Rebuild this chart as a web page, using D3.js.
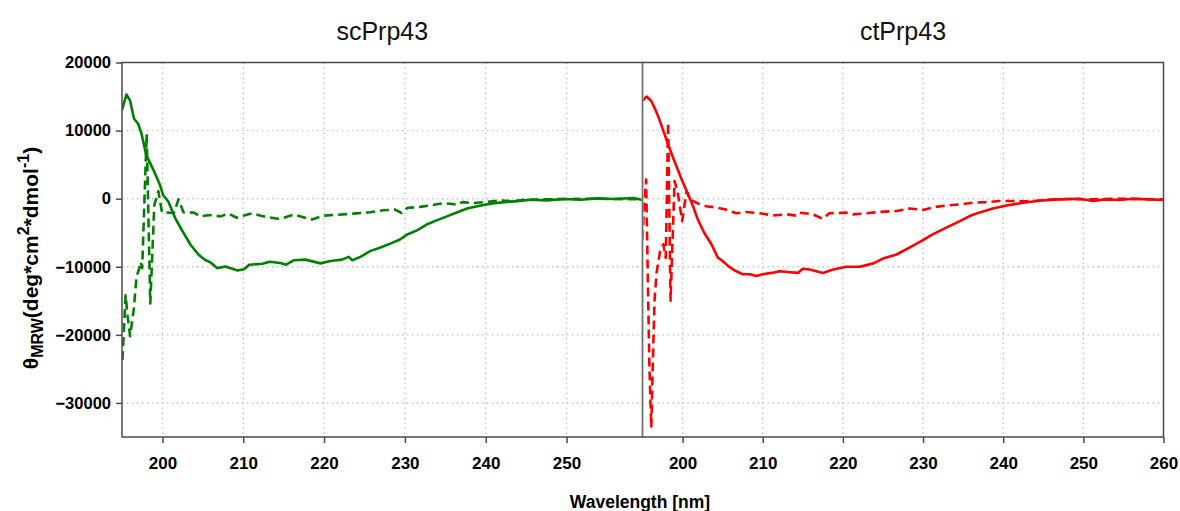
<!DOCTYPE html>
<html>
<head>
<meta charset="utf-8">
<script src="https://cdn.jsdelivr.net/npm/d3@7"></script>
<style>
  body { margin: 0; background: #fff; }
  svg { display: block; font-family: "Liberation Sans", Arial, sans-serif; }
</style>
</head>
<body>
<svg id="chart" width="1180" height="511"></svg>
<script>
'use strict';

// values: [wavelength nm, theta MRW]
const panelTitles = ['scPrp43', 'ctPrp43'];
const yTicks = [20000, 10000, 0, -10000, -20000, -30000];
const xTicksLeft = [200, 210, 220, 230, 240, 250];
const xTicksRight = [200, 210, 220, 230, 240, 250, 260];

const scSolid = [
  [195.0, 13000], [195.55, 15300], [196.0, 14400], [196.5, 11700], [197.0, 11000],
  [197.4, 9600], [198.0, 6400], [198.9, 4200], [199.7, 2000], [200.1, 500],
  [200.75, -450], [201.6, -2900], [202.4, -4600], [203.5, -6800], [204.5, -8250],
  [205.3, -9000], [206.0, -9400], [206.8, -10200], [207.8, -9950], [209.3, -10550],
  [210.1, -10350], [210.75, -9700], [212.4, -9550], [213.25, -9250], [214.6, -9450],
  [215.3, -9700], [216.25, -9050], [217.7, -8950], [219.55, -9500], [220.8, -9150],
  [222.2, -8950], [223.05, -8550], [223.5, -9050], [224.5, -8550], [225.7, -7700],
  [226.9, -7200], [228.2, -6600], [229.4, -6000], [230.3, -5250], [231.5, -4650],
  [232.7, -3800], [234.0, -3150], [235.2, -2600], [236.5, -2000], [237.7, -1450],
  [239.4, -1000], [241.0, -650], [243.5, -400], [245.6, -150], [247.6, -250],
  [249.7, -50], [251.7, -150], [253.8, 50], [255.9, -50], [258.3, 100], [259.4, -200],
];

const scDashed = [
  [195.05, -23700], [195.45, -14200], [195.7, -17300], [196.0, -20200], [196.45, -16300],
  [196.8, -11400], [197.1, -10400], [197.3, -9300], [197.5, -10200], [198.05, 9500],
  [198.5, -15400], [199.0, -900], [199.5, 1100], [199.95, -2000], [201.4, -2100],
  [202.0, -100], [202.6, -2000], [203.9, -2050], [204.7, -2600], [205.9, -2400],
  [207.2, -2600], [208.2, -2200], [209.2, -2800], [210.2, -2450], [211.1, -2150],
  [212.3, -2550], [214.2, -2950], [215.0, -2800], [216.25, -2350], [218.5, -3050],
  [219.9, -2500], [221.8, -2350], [223.6, -2200], [225.7, -2000], [227.3, -1700],
  [228.8, -1600], [229.6, -2100], [230.3, -1350], [231.9, -1200], [233.6, -900],
  [234.8, -650], [235.6, -750], [236.5, -900], [237.1, -500], [238.5, -650],
  [240.2, -450], [241.8, -250], [243.5, -400], [244.7, -150], [247.0, -100],
  [250.0, -50], [253.0, 0], [256.0, -50], [259.4, -100],
];

const ctSolid = [
  [195.0, 14350], [195.5, 15000], [196.1, 14350], [196.6, 13100], [197.1, 11650],
  [197.6, 9950], [198.2, 8000], [198.8, 6050], [199.4, 4300], [200.05, 2350],
  [200.7, 650], [201.3, -1100], [201.9, -3050], [202.7, -5000], [203.6, -6700],
  [204.4, -8650], [205.0, -9150], [205.7, -9900], [206.5, -10550], [207.5, -11100],
  [208.4, -11100], [209.2, -11350], [210.0, -11100], [211.1, -10900], [212.1, -10650],
  [213.4, -10800], [214.4, -10900], [215.0, -10300], [215.85, -10400], [217.5, -10900],
  [218.8, -10400], [220.4, -10000], [222.1, -10000], [223.8, -9500], [225.0, -8800],
  [226.7, -8200], [228.3, -7200], [230.0, -6100], [231.2, -5250], [232.9, -4250],
  [234.6, -3300], [235.8, -2550], [237.0, -2050], [238.7, -1450], [240.4, -1000],
  [242.5, -600], [244.5, -300], [247.0, -100], [249.5, 0], [251.2, -350],
  [252.8, -100], [254.5, -200], [256.1, 0], [258.2, -100], [260.0, -200],
];

const ctDashed = [
  [195.0, -6000], [195.2, -1000], [195.45, 2800], [195.7, -14000], [195.85, -24000],
  [196.0, -30000], [196.1, -33600], [196.25, -26000], [196.5, -15000], [196.75, -10900],
  [197.2, -7700], [197.6, -6700], [197.9, -8700], [198.2, 11200], [198.5, -15000],
  [199.0, 2600], [199.4, 900], [199.95, -3300], [200.5, 1100], [200.9, -100],
  [201.9, -700], [202.95, -1100], [204.2, -1300], [205.4, -1600], [206.7, -2150],
  [207.9, -1950], [209.6, -2150], [211.3, -2450], [213.0, -2300], [214.2, -2500],
  [214.6, -2050], [216.25, -2300], [217.5, -2950], [218.3, -2150], [220.4, -2050],
  [221.25, -2300], [222.9, -2150], [224.6, -1950], [226.7, -1800], [228.3, -1450],
  [230.0, -1650], [231.6, -1200], [232.9, -1000], [234.6, -850], [236.2, -600],
  [237.9, -500], [239.5, -350], [241.2, -350], [243.3, -400], [245.5, -150],
  [248.0, -50], [251.0, -100], [254.0, 0], [257.0, -50], [260.0, -100],
];

// layout
const plotTop = 62.5;
const plotBottom = 437;
const frameColor = '#4a4a4a';
const gridColor = '#c4c4c4';
const fontFamily = '"Liberation Sans", Arial, sans-serif';

const panels = [
  {
    title: panelTitles[0], solid: scSolid, dashed: scDashed, color: '#008000',
    x0: 122, x1: 642.5, domain: [195, 259.4], ticks: xTicksLeft, yAxis: true,
  },
  {
    title: panelTitles[1], solid: ctSolid, dashed: ctDashed, color: '#ff0000',
    x0: 642.5, x1: 1163.5, domain: [195, 260], ticks: xTicksRight, yAxis: false,
  },
];

const svg = d3.select('#chart');

const y = d3.scaleLinear()
  .domain([-35000, 20000])
  .range([plotBottom, plotTop]);

const styleTickText = (sel, size) => sel
  .attr('fill', '#000')
  .style('font-size', size)
  .style('font-weight', 'bold')
  .style('font-family', fontFamily);

const drawPanel = (panel, index) => {
  const x = d3.scaleLinear().domain(panel.domain).range([panel.x0, panel.x1]);
  const g = svg.append('g').attr('class', `panel-${index}`);
  const clipId = `clip-${index}`;

  svg.append('clipPath')
    .attr('id', clipId)
    .append('rect')
    .attr('x', panel.x0)
    .attr('y', plotTop)
    .attr('width', panel.x1 - panel.x0)
    .attr('height', plotBottom - plotTop);

  // dotted grid
  g.append('g')
    .selectAll('line.vgrid')
    .data(panel.ticks.filter((t) => t < panel.domain[1]))
    .join('line')
    .attr('class', 'vgrid')
    .attr('x1', (d) => x(d))
    .attr('x2', (d) => x(d))
    .attr('y1', plotTop)
    .attr('y2', plotBottom);
  g.append('g')
    .selectAll('line.hgrid')
    .data(yTicks.filter((t) => t < 20000))
    .join('line')
    .attr('class', 'hgrid')
    .attr('x1', panel.x0)
    .attr('x2', panel.x1)
    .attr('y1', (d) => y(d))
    .attr('y2', (d) => y(d));
  g.selectAll('line.vgrid, line.hgrid')
    .attr('stroke', gridColor)
    .attr('stroke-width', 1.4)
    .attr('stroke-dasharray', '1.5,3.5');

  // curves
  const line = d3.line().x((d) => x(d[0])).y((d) => y(d[1]));
  const curves = g.append('g').attr('clip-path', `url(#${clipId})`);
  curves.append('path')
    .datum(panel.dashed)
    .attr('d', line)
    .attr('fill', 'none')
    .attr('stroke', panel.color)
    .attr('stroke-width', 2.6)
    .attr('stroke-dasharray', '9,5')
    .attr('stroke-linejoin', 'round');
  curves.append('path')
    .datum(panel.solid)
    .attr('d', line)
    .attr('fill', 'none')
    .attr('stroke', panel.color)
    .attr('stroke-width', 2.6)
    .attr('stroke-linejoin', 'round');

  // bottom axis
  const xAxis = g.append('g')
    .attr('transform', `translate(0,${plotBottom})`)
    .call(d3.axisBottom(x).tickValues(panel.ticks).tickSize(6).tickPadding(14));
  xAxis.select('.domain').remove();
  xAxis.selectAll('line').attr('stroke', frameColor).attr('stroke-width', 1.5);
  styleTickText(xAxis.selectAll('text'), '17px');

  if (panel.yAxis) {
    const yAxis = g.append('g')
      .attr('transform', `translate(${panel.x0},0)`)
      .call(d3.axisLeft(y).tickValues(yTicks).tickFormat(d3.format('d'))
        .tickSize(6).tickPadding(5));
    yAxis.select('.domain').remove();
    yAxis.selectAll('line').attr('stroke', frameColor).attr('stroke-width', 1.5);
    styleTickText(yAxis.selectAll('text'), '16.5px');
  }

  // frame
  g.append('rect')
    .attr('x', panel.x0)
    .attr('y', plotTop)
    .attr('width', panel.x1 - panel.x0)
    .attr('height', plotBottom - plotTop)
    .attr('fill', 'none')
    .attr('stroke', frameColor)
    .attr('stroke-width', 1.5);

  // title
  svg.append('text')
    .attr('x', (panel.x0 + panel.x1) / 2)
    .attr('y', 40)
    .attr('text-anchor', 'middle')
    .style('font-size', '25px')
    .attr('fill', '#111')
    .text(panel.title);
};

panels.forEach(drawPanel);

// divider between the two panels is a lighter hairline
svg.append('line')
  .attr('x1', panels[1].x0)
  .attr('x2', panels[1].x0)
  .attr('y1', plotTop + 1)
  .attr('y2', plotBottom - 1)
  .attr('stroke', '#ffffff')
  .attr('stroke-width', 1.6);
svg.append('line')
  .attr('x1', panels[1].x0)
  .attr('x2', panels[1].x0)
  .attr('y1', plotTop)
  .attr('y2', plotBottom)
  .attr('stroke', '#707070')
  .attr('stroke-width', 1);

// axis titles
svg.append('text')
  .attr('x', 640)
  .attr('y', 508)
  .attr('text-anchor', 'middle')
  .style('font-size', '17.5px')
  .style('font-weight', 'bold')
  .text('Wavelength [nm]');

const yLabel = svg.append('text')
  .attr('transform', 'translate(38,258) rotate(-90)')
  .attr('text-anchor', 'middle')
  .style('font-size', '21px')
  .style('font-weight', 'bold');
yLabel.append('tspan').text('θ');
yLabel.append('tspan').attr('dy', 5).style('font-size', '16px').text('MRW');
yLabel.append('tspan').attr('dy', -5).text('(deg*cm');
yLabel.append('tspan').attr('dy', -9).style('font-size', '16px').text('2');
yLabel.append('tspan').attr('dy', 9).text('*dmol');
yLabel.append('tspan').attr('dy', -9).style('font-size', '16px').text('-1');
yLabel.append('tspan').attr('dy', 9).text(')');
</script>
</body>
</html>
